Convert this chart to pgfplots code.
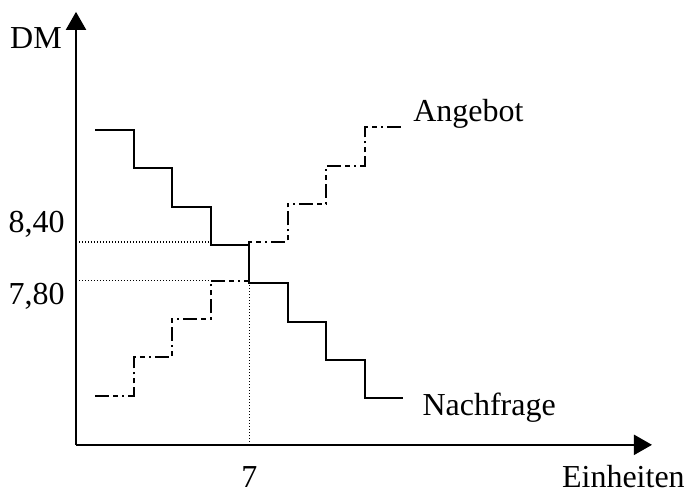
\documentclass[border=0pt]{standalone}
\usepackage{pgfplots}
\pgfplotsset{compat=1.18}
\usepackage{fontspec}
\setmainfont{Liberation Serif}
\usetikzlibrary{arrows.meta}

\begin{document}
\fontsize{16}{19}\selectfont
\begin{tikzpicture}
\begin{axis}[
    width=288pt, height=216.5pt, scale only axis,
    xmin=0, xmax=14.96,
    ymin=0, ymax=11.25,
    axis lines=left,
    axis line style={line width=1pt, -{Triangle[length=9pt,width=10pt]}},
    xtick={4.5}, xticklabels={7},
    ytick={3.64,5.51}, yticklabels={{7,80},{8,40}},
    major tick length=0pt,
    xticklabel style={anchor=base, inner sep=0pt, yshift=-21.5pt},
    yticklabel style={anchor=base east, inner sep=0pt, xshift=-5.5pt},
    clip=false,
]
% page frame as in the reference
\path (axis cs:-1.974,-1.221) rectangle (axis cs:15.896,11.558);
% Nachfrage
\addplot[black, line width=1pt, const plot] coordinates {
    (0.5,8.18)(1.5,7.19)(2.5,6.18)(3.5,5.19)(4.5,4.2)(5.5,3.2)(6.5,2.2)(7.5,1.22)(8.5,1.22)};
% Angebot
\addplot[black, line width=1pt, const plot,
    dash pattern=on 7pt off 2pt on 2.5pt off 2pt on 1pt off 2pt] coordinates {
    (0.5,1.27)(1.5,2.29)(2.5,3.27)(3.5,4.26)(4.5,5.27)(5.5,6.26)(6.5,7.25)(7.5,8.26)(8.5,8.26)};
% Hilfslinien
\addplot[black, line width=0.6pt, dash pattern=on 0.6pt off 0.9pt] coordinates {(0,5.27)(3.5,5.27)};
\addplot[black, line width=0.6pt, dash pattern=on 0.6pt off 0.9pt] coordinates {(0,4.26)(3.5,4.26)};
\addplot[black, line width=0.6pt, dash pattern=on 0.6pt off 0.9pt] coordinates {(4.5,0)(4.5,4.2)};
\node[anchor=base east, inner sep=0pt] at (axis cs:-0.36,10.31) {DM};
\node[anchor=base east, inner sep=0pt] at (axis cs:15.82,-1.11) {Einheiten};
\node[anchor=base west, inner sep=0pt] at (axis cs:8.99,0.75) {Nachfrage};
\node[anchor=base west, inner sep=0pt] at (axis cs:8.75,8.39) {Angebot};
\end{axis}
\end{tikzpicture}
\end{document}
